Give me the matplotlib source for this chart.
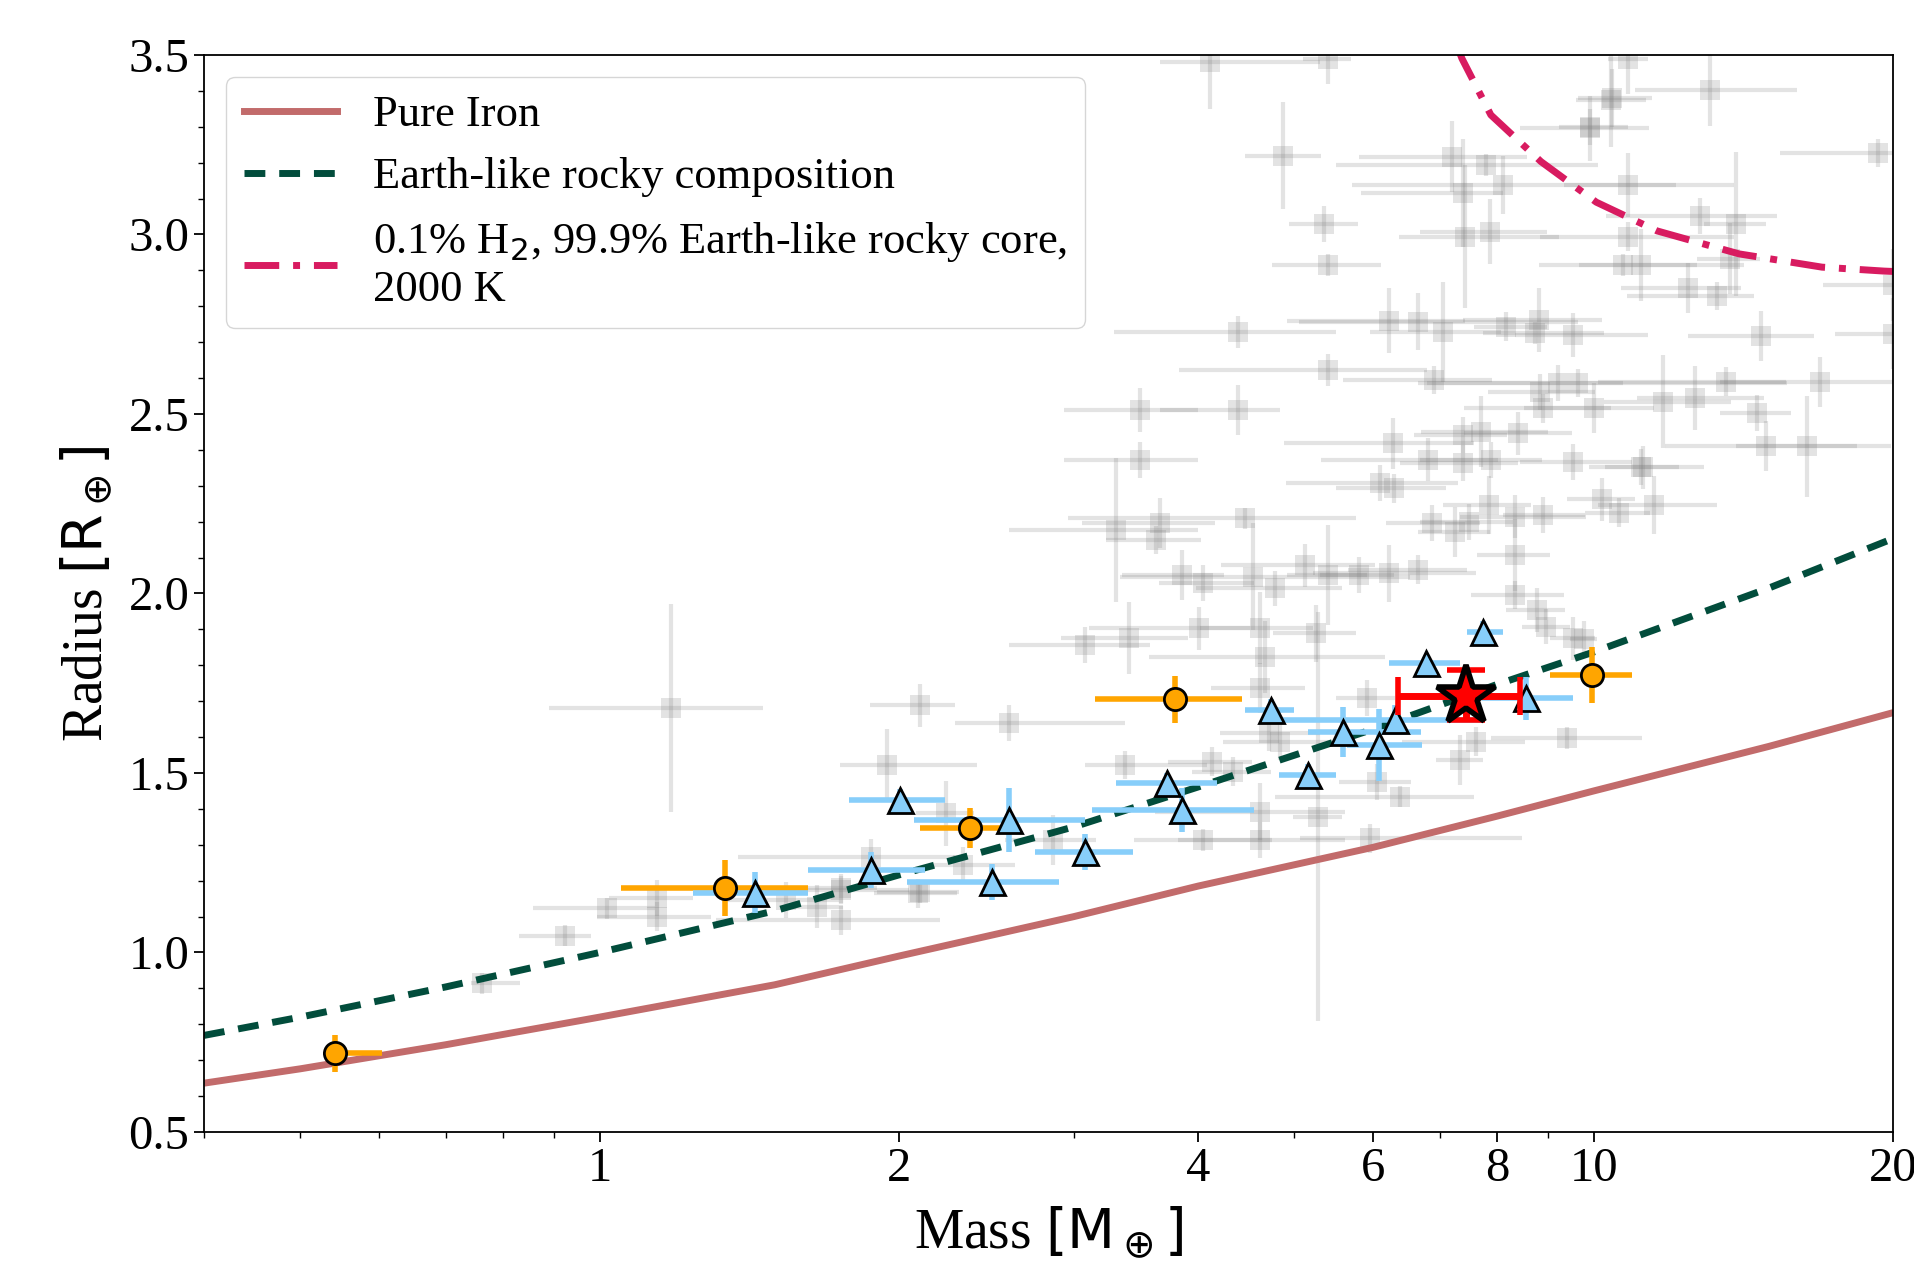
import matplotlib
matplotlib.use('Agg')
import matplotlib.pyplot as plt
import numpy as np
from matplotlib.ticker import FixedLocator, NullFormatter

plt.rcParams['font.family'] = ['Liberation Serif', 'DejaVu Serif']
plt.rcParams['mathtext.fontset'] = 'dejavusans'

# ---- model curves (mass in Earth masses, radius in Earth radii)
iron_mass = [0.4, 0.5, 0.7, 1, 1.5, 2, 3, 4, 6, 8, 10, 15, 20]
iron_radius = [0.636, 0.676, 0.743, 0.82, 0.91, 0.99, 1.10, 1.185, 1.293, 1.38, 1.45, 1.574, 1.668]

earth_mass = [0.4, 0.5, 0.7, 1, 1.5, 2, 3, 4, 6, 8, 10, 15, 20]
earth_radius = [0.769, 0.82, 0.904, 1.0, 1.116, 1.216, 1.35, 1.461, 1.622, 1.747, 1.837, 2.015, 2.153]

h2_mass = [7.3, 7.37, 7.88, 8.85, 10.06, 11.58, 14.0, 16.97, 19.6, 20.0]
h2_radius = [3.52, 3.49, 3.333, 3.203, 3.09, 3.01, 2.946, 2.909, 2.898, 2.897]

# ---- background planets: mass, radius, mass err (-), mass err (+), radius err
bg_mass = [4.11, 5.40, 4.87, 5.35, 5.41, 7.2, 7.8, 8.11, 7.39, 7.42, 7.87, 9.92, 10.42, 10.83, 10.83,
           10.83, 10.71, 11.17, 4.39, 5.41, 4.39, 6.22, 6.65, 7.06, 8.17, 8.8, 8.73, 9.53, 6.9, 8.83,
           9.65, 9.2, 8.9, 10.0, 11.75, 6.28, 6.82, 7.39, 7.7, 7.88, 8.4, 9.53, 11.17, 7.39,
           13.1, 10.44, 9.92, 19.3, 12.8, 13.9, 13.7, 12.45, 13.3, 20.0, 20.0, 14.74, 12.65, 13.6,
           16.9, 14.6, 14.9, 16.4, 11.2, 10.2, 10.6, 11.5, 9.77, 9.39,
           3.31, 3.66, 3.63, 4.46, 3.85, 4.05, 4.54, 4.78, 5.12, 5.41, 5.80, 6.22, 6.66, 3.08, 3.41,
           4.01, 4.62, 4.67, 5.26, 5.28, 4.62, 4.71, 4.84, 4.13, 4.34, 3.38, 4.62, 4.05, 4.62, 5.96,
           6.05, 6.38, 5.91, 7.34, 7.62, 8.33, 8.33, 8.76, 8.96, 9.53, 7.85, 8.33, 8.9, 6.88, 7.26,
           7.49, 6.1, 6.3,
           1.179, 2.10, 2.58, 1.945, 2.23, 1.877, 2.32, 1.75, 2.1, 2.86,
           0.924, 1.018, 1.143, 1.143, 1.656, 1.75, 1.75, 2.09, 0.762, 1.54,
           3.5, 3.5]
bg_radius = [3.48, 3.49, 3.22, 3.03, 2.915, 3.217, 3.194, 3.138, 3.115, 2.994, 3.008, 3.296, 3.375, 3.49, 3.138,
             2.994, 2.915, 2.915, 2.729, 2.623, 2.511, 2.76, 2.757, 2.729, 2.743, 2.762, 2.725, 2.72, 2.595, 2.562,
             2.586, 2.586, 2.516, 2.516, 2.534, 2.418, 2.372, 2.442, 2.451, 2.372, 2.446, 2.367, 2.353, 2.363,
             3.403, 3.38, 3.30, 3.227, 3.052, 3.03, 2.933, 2.851, 2.829, 2.86, 2.724, 2.717, 2.545, 2.59,
             2.59, 2.503, 2.41, 2.41, 2.351, 2.262, 2.225, 2.247, 1.874, 1.597,
             2.177, 2.196, 2.149, 2.209, 2.052, 2.028, 2.047, 2.014, 2.078, 2.052, 2.052, 2.056, 2.066, 1.857, 1.875,
             1.903, 1.903, 1.824, 1.889, 1.378, 1.736, 1.611, 1.587, 1.532, 1.504, 1.522, 1.392, 1.313, 1.313, 1.318,
             1.476, 1.434, 1.708, 1.536, 1.587, 1.996, 2.107, 1.954, 1.908, 1.875, 2.247, 2.214, 2.219, 2.196, 2.172,
             2.2, 2.307, 2.293,
             1.682, 1.689, 1.638, 1.522, 1.388, 1.267, 1.244, 1.174, 1.169, 1.313,
             1.047, 1.123, 1.151, 1.10, 1.128, 1.09, 1.179, 1.165, 0.914, 1.146,
             2.511, 2.372]
bg_mass_lo = [0.45, 0.3, 0.41, 0.41, 0.66, 1.4, 2.3, 2.4, 1.56, 1.05, 1.18, 1.48, 0.82, 0.5, 1.5,
              2.0, 1.9, 1.5, 1.1, 1.58, 0.73, 1.3, 1.6, 1.1, 0.6, 1.42, 1.0, 1.2, 1.3, 1.0,
              3.0, 2.4, 1.5, 1.5, 1.5, 1.4, 1.5, 0.8, 1.0, 1.2, 1.0, 1.1, 0.9, 1.0,
              2.1, 0.8, 0.7, 3.9, 2.5, 1.0, 1.0, 1.8, 2.5, 3.0, 2.5, 2.3, 1.6, 3.5,
              3.5, 1.2, 3.1, 2.5, 1.3, 0.8, 0.8, 1.4, 0.3, 1.5,
              0.73, 0.6, 0.4, 1.5, 0.5, 0.4, 1.2, 0.8, 0.9, 0.5, 0.5, 1.0, 1.0, 0.5, 0.5,
              0.9, 0.6, 1.1, 0.5, 0.3, 0.5, 0.5, 0.6, 0.4, 0.4, 0.3, 1.0, 0.6, 0.8, 0.9,
              0.5, 1.6, 0.4, 0.4, 1.2, 0.8, 0.7, 0.6, 0.5, 0.5, 0.8, 1.0, 0.8, 0.7, 0.6,
              0.8, 1.2, 0.8,
              0.29, 0.23, 0.3, 0.2, 0.15, 0.5, 0.15, 0.3, 0.2, 0.3,
              0.094, 0.16, 0.12, 0.15, 0.1, 0.44, 0.2, 0.2, 0.02, 0.2,
              0.57, 0.57]
bg_mass_hi = [1.2, 0.3, 0.45, 0.44, 0.7, 1.36, 2.3, 4.0, 0.72, 1.8, 1.11, 1.44, 0.88, 0.5, 3.0,
              3.0, 2.0, 3.0, 1.11, 1.39, 0.44, 1.2, 3.0, 1.0, 0.8, 1.4, 1.5, 1.8, 1.0, 1.2,
              6.0, 1.5, 1.5, 1.5, 2.0, 1.3, 1.2, 0.8, 1.3, 1.0, 1.1, 1.4, 1.0, 1.0,
              2.9, 1.0, 0.9, 3.0, 2.5, 1.0, 1.0, 1.6, 1.2, 3.0, 3.0, 1.9, 2.2, 2.0,
              3.5, 1.2, 5.0, 2.0, 1.7, 0.8, 0.8, 1.8, 0.3, 1.8,
              0.69, 0.5, 0.4, 1.3, 0.4, 0.5, 2.0, 0.8, 0.9, 0.5, 0.5, 1.4, 0.8, 0.5, 0.5,
              0.5, 0.6, 1.5, 0.5, 0.3, 0.5, 0.6, 0.6, 0.4, 0.4, 0.7, 1.0, 0.7, 1.0, 2.5,
              0.5, 1.2, 0.4, 0.4, 0.9, 1.0, 0.7, 0.6, 0.5, 0.5, 0.8, 1.5, 0.9, 0.8, 0.6,
              0.8, 1.2, 0.8,
              0.28, 0.18, 0.8, 0.45, 0.15, 0.4, 0.3, 0.3, 0.2, 0.3,
              0.056, 0.12, 0.1, 0.15, 0.1, 0.45, 0.15, 0.2, 0.07, 0.2,
              0.5, 0.5]
bg_radius_err = [0.13, 0.07, 0.15, 0.05, 0.03, 0.1, 0.03, 0.08, 0.15, 0.2, 0.09, 0.09, 0.13, 0.1, 0.09,
                 0.04, 0.03, 0.1, 0.045, 0.045, 0.07, 0.09, 0.08, 0.14, 0.04, 0.09, 0.03, 0.06, 0.04, 0.05,
                 0.04, 0.05, 0.04, 0.07, 0.13, 0.07, 0.06, 0.05, 0.1, 0.05, 0.06, 0.05, 0.05, 0.05,
                 0.1, 0.08, 0.05, 0.04, 0.05, 0.2, 0.1, 0.07, 0.04, 0.1, 0.1, 0.07, 0.09, 0.04,
                 0.07, 0.05, 0.07, 0.14, 0.06, 0.06, 0.04, 0.08, 0.05, 0.03,
                 0.2, 0.07, 0.04, 0.03, 0.07, 0.05, 0.15, 0.05, 0.06, 0.14, 0.05, 0.08, 0.04, 0.05, 0.1,
                 0.06, 0.1, 0.1, 0.08, 0.57, 0.07, 0.05, 0.05, 0.04, 0.04, 0.04, 0.08, 0.03, 0.05, 0.04,
                 0.05, 0.03, 0.05, 0.07, 0.04, 0.04, 0.1, 0.06, 0.05, 0.06, 0.08, 0.06, 0.05, 0.05, 0.07,
                 0.05, 0.05, 0.04,
                 0.29, 0.06, 0.05, 0.1, 0.09, 0.05, 0.05, 0.04, 0.03, 0.07,
                 0.03, 0.03, 0.05, 0.04, 0.06, 0.04, 0.04, 0.04, 0.03, 0.05,
                 0.06, 0.05]

# ---- highlighted samples
orange_mass = [0.542, 1.337, 2.356, 3.79, 9.97]
orange_radius = [0.719, 1.18, 1.346, 1.705, 1.773]
orange_mass_lo = [0.01, 0.285, 0.256, 0.64, 0.94]
orange_mass_hi = [0.062, 0.284, 0.174, 0.64, 0.95]
orange_radius_err = [0.052, 0.078, 0.056, 0.066, 0.077]

blue_mass = [1.432, 1.877, 2.007, 2.48, 2.58, 3.08, 3.72, 3.85, 4.74, 5.16, 5.6, 6.08, 6.31, 6.78, 7.74, 8.54]
blue_radius = [1.167, 1.23, 1.425, 1.197, 1.369, 1.281, 1.471, 1.397, 1.675, 1.494, 1.615, 1.578, 1.648, 1.806, 1.894, 1.708]
blue_mass_lo = [0.19, 0.257, 0.224, 0.44, 0.51, 0.34, 0.41, 0.72, 0.28, 0.34, 0.44, 0.43, 1.57, 0.56, 0.29, 0.82]
blue_mass_hi = [0.19, 0.248, 0.22, 0.42, 0.5, 0.36, 0.46, 0.7, 0.26, 0.34, 1.1, 0.64, 1.39, 0.56, 0.37, 0.99]
blue_radius_err = [0.056, 0.05, 0.03, 0.05, 0.09, 0.05, 0.03, 0.06, 0.03, 0.03, 0.07, 0.1, 0.04, 0.02, 0.03, 0.06]

star_mass, star_radius = 7.44, 1.715
star_mass_lo, star_mass_hi = 1.09, 1.0
star_radius_lo, star_radius_hi = 0.067, 0.072

fig = plt.figure(figsize=(19.15, 12.61), dpi=100)
ax = fig.add_axes([0.1065, 0.1023, 0.882, 0.8541])

# background population
ax.errorbar(bg_mass, bg_radius, xerr=[bg_mass_lo, bg_mass_hi], yerr=bg_radius_err,
            fmt='s', color='gray', ms=14, mew=0, elinewidth=3, capsize=0, alpha=0.22, zorder=1)

# model curves
ax.plot(iron_mass, iron_radius, color='#c26b6b', lw=5, label='Pure Iron', zorder=2)
ax.plot(earth_mass, earth_radius, color='#024d3c', lw=5, ls=(0, (3, 2)),
        label='Earth-like rocky composition', zorder=2)
ax.plot(h2_mass, h2_radius, color='#d81b60', lw=5, ls=(0, (5, 2, 1, 2)),
        label='0.1% H$_2$, 99.9% Earth-like rocky core,\n2000 K', zorder=2)

ax.errorbar(orange_mass, orange_radius, xerr=[orange_mass_lo, orange_mass_hi], yerr=orange_radius_err,
            fmt='o', color='orange', ms=16, mec='black', mew=2, elinewidth=4, capsize=0, zorder=3)
ax.errorbar(blue_mass, blue_radius, xerr=[blue_mass_lo, blue_mass_hi], yerr=blue_radius_err,
            fmt='^', color='lightskyblue', ms=18, mec='black', mew=2, elinewidth=4, capsize=0, zorder=3)
ax.errorbar([star_mass], [star_radius], xerr=[[star_mass_lo], [star_mass_hi]],
            yerr=[[star_radius_lo], [star_radius_hi]], fmt='*', color='red', ms=44, mec='black',
            mew=4, ecolor='red', elinewidth=5, capsize=14, capthick=3, zorder=4)

ax.set_xscale('log')
ax.set_xlim(0.4, 20)
ax.set_ylim(0.5, 3.5)
ax.xaxis.set_major_locator(FixedLocator([1, 2, 4, 6, 8, 10, 20]))
ax.set_xticklabels(['1', '2', '4', '6', '8', '10', '20'])
ax.xaxis.set_minor_locator(FixedLocator([0.4, 0.5, 0.6, 0.7, 0.8, 0.9, 3, 5, 7, 9]))
ax.xaxis.set_minor_formatter(NullFormatter())
ax.set_yticks(np.arange(0.5, 3.51, 0.5))
ax.set_yticks(np.arange(0.5, 3.51, 0.1), minor=True)
ax.tick_params(which='major', length=7, width=1.3, labelsize=35)
ax.tick_params(which='minor', length=4, width=1.0)
for s in ax.spines.values():
    s.set_linewidth(1.3)

ax.set_xlabel(r'Mass $\left[\mathrm{M}_\oplus\right]$', fontsize=40, labelpad=10)
ax.set_ylabel(r'Radius $\left[\mathrm{R}_\oplus\right]$', fontsize=40, labelpad=10)

ax.legend(loc='upper left', fontsize=32, framealpha=0.8, handlelength=2.1)

fig.savefig('out.png', dpi=100)
